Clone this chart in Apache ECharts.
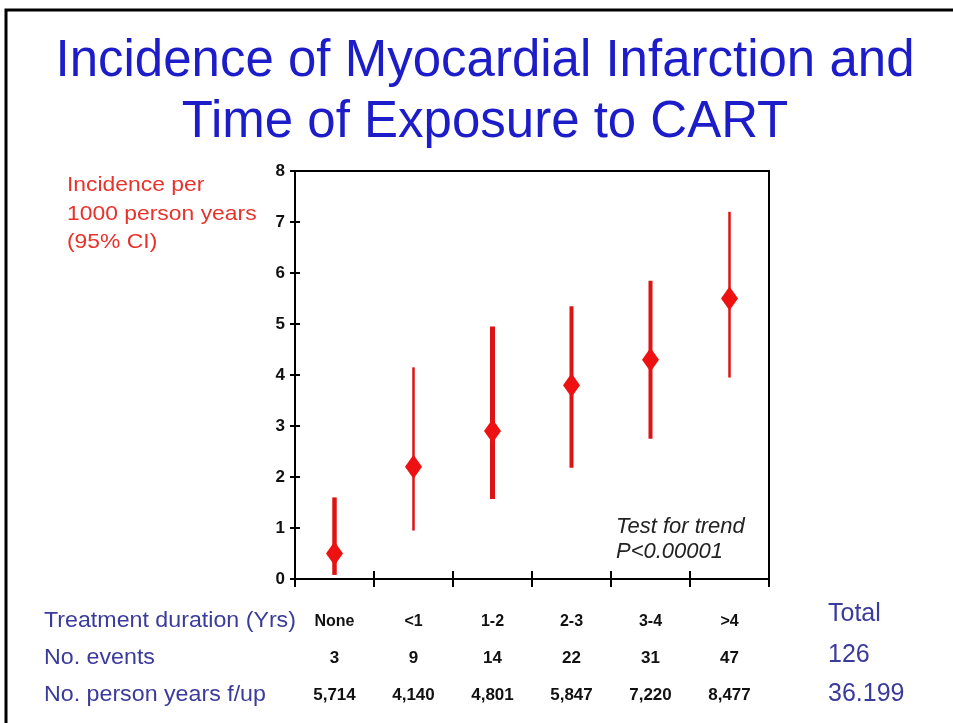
<!DOCTYPE html>
<html>
<head>
<meta charset="utf-8">
<script src="https://cdn.jsdelivr.net/npm/echarts@6/dist/echarts.min.js"></script>
<style>
  html, body { margin: 0; padding: 0; background: #fff; }
  #chart { width: 953px; height: 723px; }
</style>
</head>
<body>
<div id="chart"></div>
<script>
// treatment duration groups
const durations = ['None', '<1', '1-2', '2-3', '3-4', '>4']
// incidence per 1000 person years, with 95% CI
const incidence = [0.5, 2.2, 2.9, 3.8, 4.3, 5.5]
const ciLow = [0.08, 0.95, 1.57, 2.18, 2.75, 3.95]
const ciHigh = [1.6, 4.15, 4.95, 5.35, 5.85, 7.2]
const events = ['3', '9', '14', '22', '31', '47']
const personYears = ['5,714', '4,140', '4,801', '5,847', '7,220', '8,477']
const totalEvents = '126'
const totalPersonYears = '36.199'
const yTicks = [0, 1, 2, 3, 4, 5, 6, 7, 8]

const ciWidths = [4.5, 2.5, 5, 4, 4, 2.5]
const sans = "'Liberation Sans', Arial, sans-serif"
const rowColor = '#3b3b9c'

let chart = echarts.init(document.getElementById('chart'))

let ciData = durations.map((d, i) => [i, ciLow[i], ciHigh[i]])

// plain text helper for the graphic layer
function label(x, y, text, font, fill, extra) {
  return Object.assign({
    type: 'text', x: x, y: y,
    style: { text: text, font: font, fill: fill, verticalAlign: 'middle' }
  }, extra || {})
}

chart.setOption({
  backgroundColor: '#fff',
  animation: false,
  grid: {
    left: 295, top: 171, right: 184, bottom: 144,
    show: true, borderColor: '#000', borderWidth: 2
  },
  xAxis: [{
    type: 'category',
    data: durations,
    boundaryGap: true,
    axisLine: { lineStyle: { color: '#000', width: 2 } },
    axisTick: { show: true, length: 8, interval: 0, lineStyle: { color: '#000', width: 2 } },
    axisLabel: {
      interval: 0,
      margin: 24,
      formatter: (v, i) => '{c|' + v + '}\n{n|' + events[i] + '}\n{n|' + personYears[i] + '}',
      rich: {
        c: { fontFamily: sans, fontWeight: 'bold', fontSize: 16, color: '#111', lineHeight: 37 },
        n: { fontFamily: sans, fontWeight: 'bold', fontSize: 17, color: '#111', lineHeight: 37 }
      }
    }
  }, {
    type: 'category',
    data: durations,
    position: 'bottom',
    axisLine: { show: false },
    axisTick: { show: true, inside: true, length: 8, interval: 0, lineStyle: { color: '#000', width: 2 } },
    axisLabel: { show: false }
  }],
  yAxis: [{
    type: 'value',
    min: yTicks[0], max: yTicks[yTicks.length - 1], interval: 1,
    splitLine: { show: false },
    axisLine: { show: true, lineStyle: { color: '#000', width: 2 } },
    axisTick: { show: true, length: 5, lineStyle: { color: '#000', width: 2 } },
    axisLabel: { margin: 10, fontFamily: sans, fontWeight: 'bold', fontSize: 17, color: '#111' }
  }, {
    type: 'value',
    position: 'left',
    min: yTicks[0], max: yTicks[yTicks.length - 1], interval: 1,
    splitLine: { show: false },
    axisLine: { show: false },
    axisTick: { show: true, inside: true, length: 5, lineStyle: { color: '#000', width: 2 } },
    axisLabel: { show: false }
  }],
  series: [{
    type: 'custom',
    data: ciData,
    renderItem: (params, api) => {
      let lo = api.coord([api.value(0), api.value(1)])
      let hi = api.coord([api.value(0), api.value(2)])
      return {
        type: 'line',
        shape: { x1: lo[0], y1: lo[1], x2: hi[0], y2: hi[1] },
        style: { stroke: '#dd1414', lineWidth: ciWidths[params.dataIndex] }
      }
    },
    z: 2
  }, {
    type: 'scatter',
    data: incidence,
    symbol: 'diamond',
    symbolSize: [17, 24],
    itemStyle: { color: '#ee1111', opacity: 1 },
    z: 3
  }],
  graphic: [
    {
      type: 'polyline',
      shape: { points: [[6, 723], [6, 10], [953, 10]] },
      style: { stroke: '#000', lineWidth: 3, fill: null }
    },
    {
      type: 'text', x: 485, y: 62,
      style: {
        text: 'Incidence of Myocardial Infarction and', font: '51px ' + sans,
        fill: '#1c1cc8', align: 'center', verticalAlign: 'middle'
      }
    },
    {
      type: 'text', x: 485, y: 123,
      style: {
        text: 'Time of Exposure to CART', font: '51px ' + sans,
        fill: '#1c1cc8', align: 'center', verticalAlign: 'middle'
      }
    },
    {
      type: 'text', x: 67, y: 171, scaleX: 1.09,
      style: {
        text: 'Incidence per\n1000 person years\n(95% CI)', font: '21px ' + sans,
        lineHeight: 28.5, fill: '#e8322c'
      }
    },
    {
      type: 'text', x: 616, y: 514,
      style: {
        text: 'Test for trend\nP<0.00001', font: 'italic 22px ' + sans,
        lineHeight: 25, fill: '#222'
      }
    },
    label(44, 621, 'Treatment duration (Yrs)', '22px ' + sans, rowColor, { scaleX: 1.055 }),
    label(44, 658, 'No. events', '22px ' + sans, rowColor, { scaleX: 1.055 }),
    label(44, 695, 'No. person years f/up', '22px ' + sans, rowColor, { scaleX: 1.055 }),
    label(828, 614, 'Total', '25px ' + sans, rowColor),
    label(828, 655, totalEvents, '25px ' + sans, rowColor),
    label(828, 694, totalPersonYears, '25px ' + sans, rowColor)
  ]
})
</script>
</body>
</html>
